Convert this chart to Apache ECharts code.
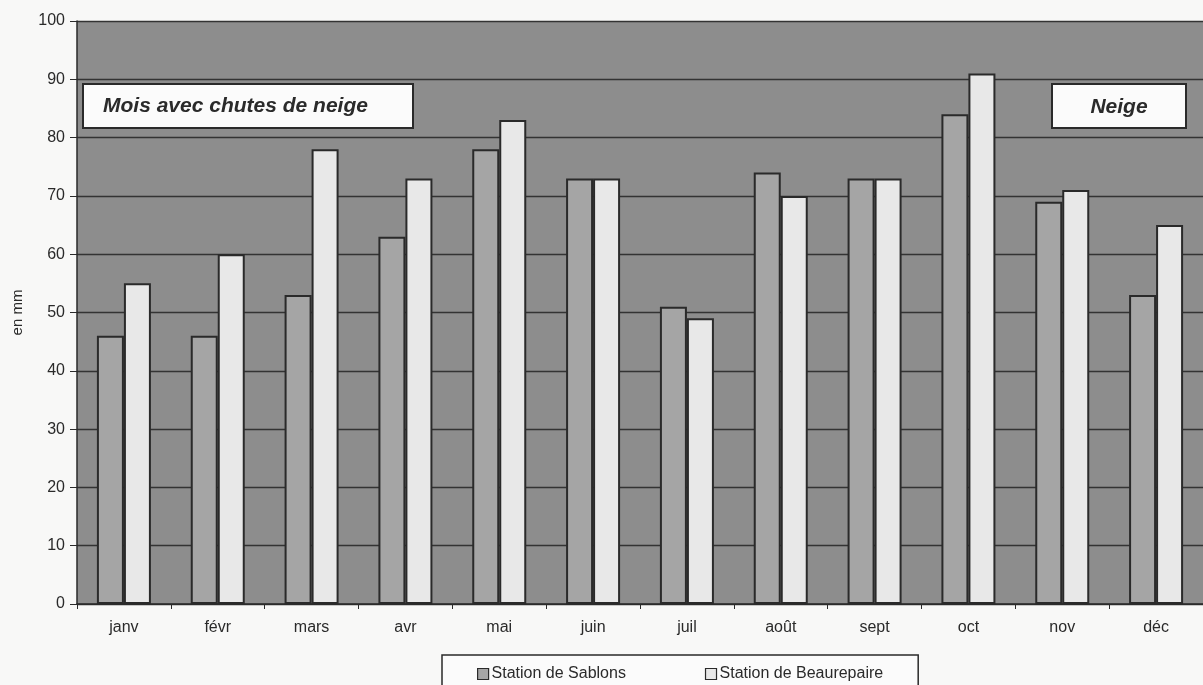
<!DOCTYPE html>
<html>
<head>
<meta charset="utf-8">
<script src="https://cdn.jsdelivr.net/npm/echarts@6/dist/echarts.min.js"></script>
<style>
  html, body { margin: 0; padding: 0; background: #f8f8f7; }
  #chart { width: 1203px; height: 685px; }
</style>
</head>
<body>
<div id="chart"></div>
<script>
// Monthly precipitation (mm) at two stations
const months = ['janv', 'févr', 'mars', 'avr', 'mai', 'juin', 'juil', 'août', 'sept', 'oct', 'nov', 'déc'];
const sablons = [46, 46, 53, 63, 78, 73, 51, 74, 73, 84, 69, 53];
const beaurepaire = [55, 60, 78, 73, 83, 73, 49, 70, 73, 91, 71, 65];
const seriesNames = ['Station de Sablons', 'Station de Beaurepaire'];
const boxTitles = ['Mois avec chutes de neige', 'Neige'];

const FONT = 'Liberation Sans, Arial, sans-serif';
const INK = '#2a2a2a';

const chart = echarts.init(document.getElementById('chart'), null, { renderer: 'canvas' });

chart.setOption({
  backgroundColor: '#f8f8f7',
  animation: false,
  grid: {
    left: 77, right: -10, top: 21, bottom: 81,
    show: true, backgroundColor: '#8d8d8d', borderWidth: 0
  },
  xAxis: {
    type: 'category',
    data: months,
    axisLine: { lineStyle: { color: INK, width: 1.5 } },
    axisTick: { show: true, length: 5, lineStyle: { color: INK } },
    axisLabel: { color: INK, fontFamily: FONT, fontSize: 16, margin: 16 }
  },
  yAxis: {
    type: 'value',
    min: 0, max: 100, interval: 10,
    name: 'en mm',
    nameLocation: 'middle',
    nameRotate: 90,
    nameGap: 52,
    nameTextStyle: { color: INK, fontFamily: FONT, fontSize: 15 },
    axisLine: { show: true, lineStyle: { color: INK, width: 1.5 } },
    axisTick: { show: true, length: 7, lineStyle: { color: INK } },
    axisLabel: { color: INK, fontFamily: FONT, fontSize: 16, margin: 12 },
    splitLine: { show: true, lineStyle: { color: '#333333', width: 1.3 } }
  },
  legend: {
    left: 442, top: 655,
    padding: [11, 35, 20, 35],
    itemGap: 79,
    itemWidth: 11, itemHeight: 11,
    icon: 'rect',
    backgroundColor: '#fbfbfb',
    borderColor: INK, borderWidth: 1.5,
    itemStyle: { borderColor: INK, borderWidth: 1.2 },
    textStyle: { color: INK, fontFamily: FONT, fontSize: 16, padding: [0, 0, 0, -2] },
    data: seriesNames
  },
  series: [
    {
      name: seriesNames[0], type: 'bar', data: sablons,
      barWidth: 27, barGap: '0%',
      itemStyle: { color: '#a5a5a5', borderColor: '#2a2a2a', borderWidth: 2 }
    },
    {
      name: seriesNames[1], type: 'bar', data: beaurepaire,
      barWidth: 27, barGap: '0%',
      itemStyle: { color: '#e8e8e8', borderColor: '#2a2a2a', borderWidth: 2 }
    }
  ],
  graphic: [
    {
      type: 'group', left: 82, top: 83,
      children: [
        { type: 'rect', shape: { x: 0, y: 0, width: 330, height: 44 },
          style: { fill: '#fbfbfb', stroke: INK, lineWidth: 2 } },
        { type: 'text', x: 20, y: 22,
          style: { text: boxTitles[0], fill: INK, font: 'italic bold 21px ' + FONT,
                   textAlign: 'left', textVerticalAlign: 'middle' } }
      ]
    },
    {
      type: 'group', left: 1051, top: 83,
      children: [
        { type: 'rect', shape: { x: 0, y: 0, width: 134, height: 44 },
          style: { fill: '#fbfbfb', stroke: INK, lineWidth: 2 } },
        { type: 'text', x: 67, y: 23,
          style: { text: boxTitles[1], fill: INK, font: 'italic bold 21px ' + FONT,
                   textAlign: 'center', textVerticalAlign: 'middle' } }
      ]
    }
  ]
});
</script>
</body>
</html>
